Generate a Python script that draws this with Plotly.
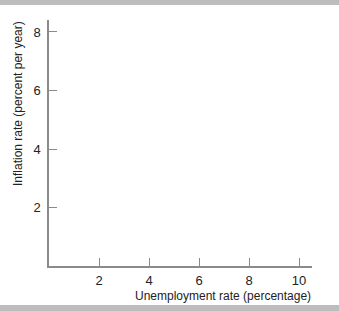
import plotly.graph_objects as go

x_ticks = [2, 4, 6, 8, 10]
y_ticks = [2, 4, 6, 8]
x_title = "Unemployment rate (percentage)"
y_title = "Inflation rate (percent per year)"

W, H = 339, 311
L, R, T, B = 49, 27, 20, 45
pw, ph = W - L - R, H - T - B

axis_col = "#8a8a8a"
band_col = "#bdbdbd"
font = dict(family="Liberation Sans, Arial, sans-serif", size=12, color="#222222")

fig = go.Figure()
fig.add_trace(go.Scatter(x=[], y=[], mode="lines", showlegend=False))

def py(px):  # pixel y from top -> paper y
    return 1 - (px - T) / ph

def px_(pxx):
    return (pxx - L) / pw

fig.update_layout(
    width=W, height=H,
    margin=dict(l=L, r=R, t=T, b=B, pad=0),
    paper_bgcolor="white", plot_bgcolor="white",
    font=font,
    showlegend=False,
    xaxis=dict(range=[0, 10.52], tickvals=x_ticks, ticks="inside", ticklen=8,
               tickcolor=axis_col, tickwidth=1, showline=True, linecolor=axis_col,
               linewidth=1.5, showgrid=False, zeroline=False, ticklabelstandoff=2,
               tickfont=dict(size=13), fixedrange=True),
    yaxis=dict(range=[0, 8.41], tickvals=y_ticks, ticks="inside", ticklen=8,
               tickcolor=axis_col, tickwidth=1, showline=True, linecolor=axis_col,
               linewidth=1.5, showgrid=False, zeroline=False, ticklabelstandoff=4,
               tickfont=dict(size=13), fixedrange=True),
    shapes=[
        dict(type="rect", xref="paper", yref="paper", x0=px_(0), x1=px_(W),
             y0=py(0), y1=py(5), fillcolor=band_col, line_width=0, layer="below"),
        dict(type="rect", xref="paper", yref="paper", x0=px_(0), x1=px_(W),
             y0=py(305), y1=py(H), fillcolor=band_col, line_width=0, layer="below"),
    ],
    annotations=[
        dict(text=x_title, xref="paper", yref="paper", x=px_(313), y=py(296),
             xanchor="right", yanchor="middle", showarrow=False, font=font),
        dict(text=y_title, xref="paper", yref="paper", x=px_(18), y=py(104),
             xanchor="center", yanchor="middle", textangle=-90, showarrow=False, font=font),
    ],
)

fig.write_html("out.html")
